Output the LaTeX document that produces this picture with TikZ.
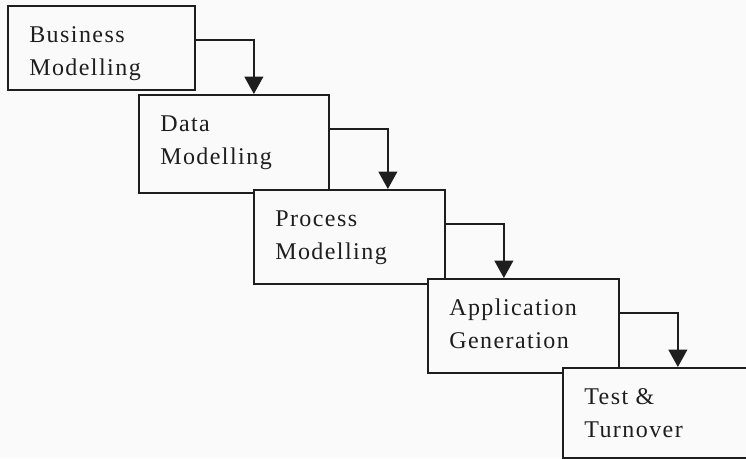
\documentclass[tikz,border=0pt]{standalone}
\usepackage{fontspec}
\setmainfont[LetterSpace=6]{Liberation Serif}
\usetikzlibrary{arrows.meta}
\definecolor{paper}{HTML}{FAFAFA}
\definecolor{ink}{HTML}{1E1E1E}
\tikzset{
  stagebox/.style={draw=ink, fill=paper, line width=1.4pt, rectangle,
    inner sep=0pt, anchor=north west},
  stagetext/.style={inner sep=0pt, anchor=base west, align=left, text=ink,
    font=\fontsize{18}{24.5}\selectfont},
  flow/.style={draw=ink, line width=1.4pt,
    -{Triangle[width=14pt,length=13pt]}},
}
\newcommand{\stage}[6]{%
  % name, x, y (px), width, height (pt), label; base anchor is the last line
  \node[stagebox, minimum width=#4, minimum height=#5] (#1) at (#2,#3) {};
  \node[stagetext] (#1t) at ([xshift=16.5pt,yshift=-52.5pt]#1.north west) {#6};
}
\begin{document}
\begin{tikzpicture}[x=0.75pt,y=-0.75pt]
  \clip (0,0) rectangle (746,458);
  \fill[paper] (0,0) rectangle (746,458);

  \stage{b1}{7}{5}{140.25pt}{63pt}{Business\\Modelling}
  \stage{b2}{138}{94}{142.5pt}{73.5pt}{Data\\Modelling}
  \stage{b3}{253}{189}{143.25pt}{70.5pt}{Process\\Modelling}
  \stage{b4}{427}{278}{143.25pt}{70.5pt}{Application\\Generation}
  \stage{b5}{562}{367}{150pt}{67.5pt}{Test \&\\Turnover}

  % elbow connectors between consecutive stages
  \foreach \a/\b in {b1/b2, b2/b3, b3/b4, b4/b5} {
    \coordinate (\a s) at ([yshift=-26.25pt]\a.north east);
    \coordinate (\a k) at ([xshift=43.5pt]\a.north east);
    \draw[flow] (\a s) -| (\a k |- \b.north);
  }
\end{tikzpicture}
\end{document}
